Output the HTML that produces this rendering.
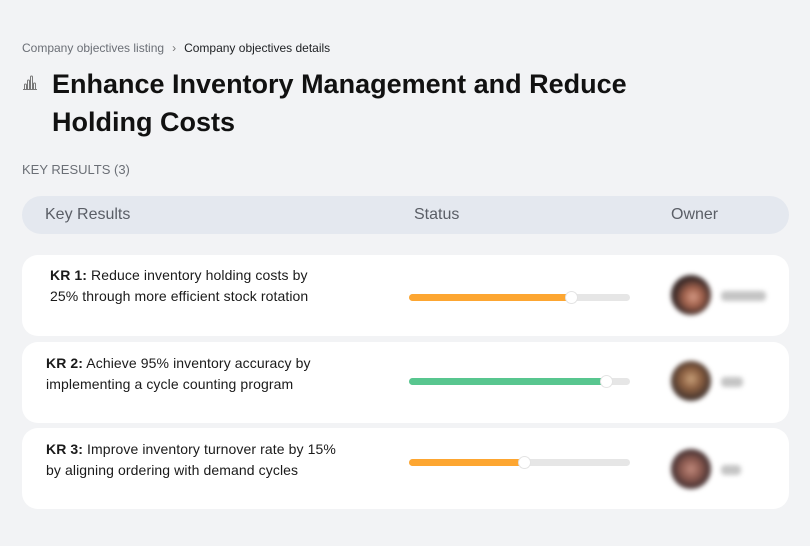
<!DOCTYPE html>
<html>
<head>
<meta charset="utf-8">
<style>
  html,body{margin:0;padding:0;}
  body{width:810px;height:546px;background:#f2f3f5;font-family:"Liberation Sans",sans-serif;position:relative;overflow:hidden;color:#111;}
  .abs{position:absolute;}
  .crumb{left:22px;top:41px;font-size:12px;color:#6b6f76;white-space:nowrap;}
  .crumb .cur{color:#1d1f22;}
  .crumb .sep{display:inline-block;margin:0 8px 0 8px;color:#777;}
  .title{left:52px;top:65px;font-size:27px;font-weight:bold;line-height:38px;color:#111;width:700px;letter-spacing:0px;}
  .kr{left:22px;top:162px;font-size:13px;color:#6b6f76;letter-spacing:0px;}
  .hdr{left:22px;top:196px;width:767px;height:38px;background:#e4e8ef;border-radius:19px;}
  .hdr span{position:absolute;top:10px;font-size:16px;color:#5a5e66;}
  .card{left:22px;width:767px;height:81px;background:#fff;border-radius:16px;}
  .txt{position:absolute;font-size:14px;line-height:21px;color:#1a1a1a;white-space:nowrap;letter-spacing:0.1px;}
  .track{position:absolute;left:387px;width:221px;height:7px;border-radius:4px;background:#e6e6e6;}
  .fill{position:absolute;left:0;top:0;height:7px;border-radius:4px;}
  .thumb{position:absolute;top:-2.5px;width:11px;height:11px;border-radius:50%;background:#fff;box-shadow:0 0 0 1px #e3e3e3;}
  .av{position:absolute;left:649px;width:40px;height:40px;border-radius:50%;filter:blur(2.5px);}
  .nm{position:absolute;left:699px;height:10px;border-radius:4px;background:#c4c4c4;filter:blur(2.5px);}
</style>
</head>
<body>
  <div class="abs crumb">Company objectives listing<span class="sep">›</span><span class="cur">Company objectives details</span></div>

  <svg class="abs" style="left:22px;top:74px" width="16" height="18" viewBox="0 0 16 18">
    <g fill="none" stroke="#777" stroke-width="1">
      <path d="M2.5 15 V11 Q2.5 10 3.5 10 Q4.5 10 4.5 11 V15"/>
      <path d="M5.5 15 V7 Q5.5 6 6.5 6 Q7.5 6 7.5 7 V15"/>
      <path d="M8.5 15 V3 Q8.5 2 9.5 2 Q10.5 2 10.5 3 V15"/>
      <path d="M11.5 15 V10 Q11.5 9 12.5 9 Q13.5 9 13.5 10 V15"/>
      <path d="M1 15.5 H15"/>
    </g>
  </svg>
  <div class="abs title">Enhance Inventory Management and Reduce<br>Holding Costs</div>

  <div class="abs kr">KEY RESULTS (3)</div>

  <div class="abs hdr">
    <span style="left:23px">Key Results</span>
    <span style="left:392px">Status</span>
    <span style="left:649px">Owner</span>
  </div>

  <div class="abs card" style="top:255px">
    <div class="txt" style="left:28px;top:10px"><b>KR 1:</b> Reduce inventory holding costs by<br>25% through more efficient stock rotation</div>
    <div class="track" style="top:39px"><div class="fill" style="width:164px;background:#fda631"></div><div class="thumb" style="left:157px"></div></div>
    <div class="av" style="top:20px;background:radial-gradient(circle at 55% 55%,#d59a85 0%,#a0614c 30%,#3b2a28 60%,#2a2424 100%)"></div>
    <div class="nm" style="top:36px;width:45px"></div>
  </div>

  <div class="abs card" style="top:342px">
    <div class="txt" style="left:24px;top:11px"><b>KR 2:</b> Achieve 95% inventory accuracy by<br>implementing a cycle counting program</div>
    <div class="track" style="top:36px"><div class="fill" style="width:199px;background:#58c68f"></div><div class="thumb" style="left:192px"></div></div>
    <div class="av" style="top:19px;background:radial-gradient(circle at 50% 45%,#c8a07a 0%,#8a5e40 35%,#4a3830 65%,#3a3232 100%)"></div>
    <div class="nm" style="top:35px;width:22px"></div>
  </div>

  <div class="abs card" style="top:428px">
    <div class="txt" style="left:24px;top:11px"><b>KR 3:</b> Improve inventory turnover rate by 15%<br>by aligning ordering with demand cycles</div>
    <div class="track" style="top:31px"><div class="fill" style="width:117px;background:#fda631"></div><div class="thumb" style="left:110px"></div></div>
    <div class="av" style="top:21px;background:radial-gradient(circle at 50% 50%,#c08a7c 0%,#8c5a50 35%,#4a3434 65%,#3c3434 100%)"></div>
    <div class="nm" style="top:37px;width:20px"></div>
  </div>
</body>
</html>
